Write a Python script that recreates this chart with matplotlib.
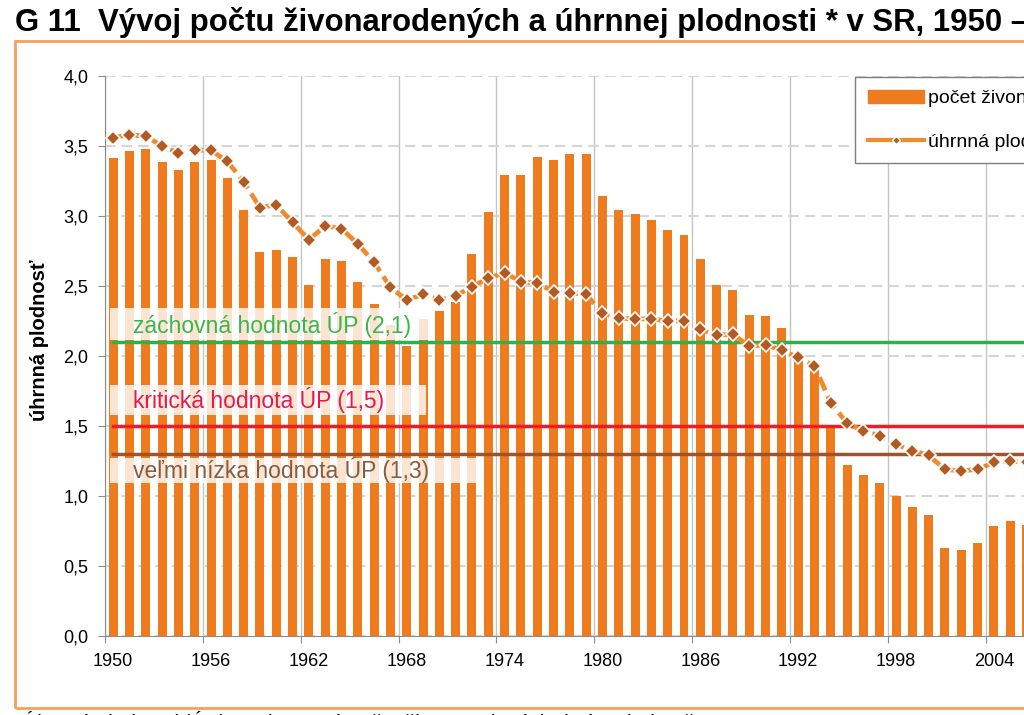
import numpy as np
import matplotlib.pyplot as plt
from matplotlib.patches import Rectangle
from matplotlib.lines import Line2D

plt.rcParams['font.family'] = ['Liberation Sans', 'DejaVu Sans']

# roky 1950-2006 (vidno len po 2006, graf je orezany)
years = list(range(1950, 2007))

# pocet zivonarodenych (tis.), pravá os
births = [99.7, 100.6, 100.9, 99.2, 98.3, 99.3, 99.5, 97.2, 93.2, 88.0,
          88.3, 87.4, 83.9, 87.1, 86.9, 84.3, 81.5, 78.9, 76.2, 79.6,
          80.6, 81.7, 87.8, 93.0, 97.6, 97.6, 99.9, 99.5, 100.2, 100.2,
          95.0, 93.2, 92.7, 92.0, 90.8, 90.1, 87.1, 83.9, 83.2, 80.1,
          80.0, 78.5, 74.6, 73.3, 66.4, 61.4, 60.1, 59.1, 57.5, 56.1,
          55.1, 51.0, 50.8, 51.6, 53.7, 54.4, 53.9]

# uhrnna plodnost, lava os
tfr = [3.56, 3.58, 3.57, 3.50, 3.45, 3.47, 3.47, 3.39, 3.245, 3.06,
       3.08, 2.955, 2.83, 2.93, 2.91, 2.80, 2.67, 2.49, 2.40, 2.44,
       2.40, 2.43, 2.495, 2.555, 2.595, 2.53, 2.52, 2.46, 2.45, 2.44,
       2.305, 2.27, 2.265, 2.265, 2.25, 2.25, 2.19, 2.15, 2.155, 2.07,
       2.08, 2.04, 1.99, 1.93, 1.665, 1.52, 1.465, 1.43, 1.37, 1.325,
       1.29, 1.19, 1.18, 1.19, 1.24, 1.25, 1.24]

# referencne hodnoty UP
ref_values = [2.1, 1.5, 1.3]
ref_labels = ['záchovná hodnota ÚP (2,1)', 'kritická hodnota ÚP (1,5)',
              'veľmi nízka hodnota ÚP (1,3)']
ref_line_colors = ['#2EB04A', '#EE1C25', '#A0522D']
ref_text_colors = ['#3CB54A', '#E8174B', '#8B5A3C']

tick_years = list(range(1950, 2011, 6))
title = 'G 11  Vývoj počtu živonarodených a úhrnnej plodnosti * v SR, 1950 – 2010'
legend_labels = ['počet živonarodených', 'úhrnná plodnosť']

W, H = 1024, 715
px_year = 16.31
x_start, x_end = 1950, 2011

fig = plt.figure(figsize=(W / 100, H / 100), dpi=100)

# oranzovy ramcek a nadpis
fig.patches.append(Rectangle((15 / W, 1 - 708 / H), 1.2, (708 - 41) / H,
                             transform=fig.transFigure, fill=False,
                             edgecolor='#F4A15D', lw=2))
fig.text(15 / W, 1 - 22 / H, title, fontsize=22.4, fontweight='bold',
         va='center', ha='left')
fig.text(40 / W, 1 - 340 / H, 'úhrnná plodnosť', rotation=90, fontsize=14.5,
         fontweight='bold', ha='center', va='center')
fig.text(22 / W, 1 - 711 / H,
         'Úhrnná plodnosť (ÚP) – priemerný počet živonarodených detí na jednu ženu',
         fontsize=15, va='top', ha='left')

ax = fig.add_axes([105 / W, 1 - 636 / H, (x_end - x_start) * px_year / W, 560 / H])
ax.set_xlim(x_start, x_end)
ax.set_ylim(0, 4)
ax.set_yticks(np.arange(0, 4.01, 0.5))
ax.set_yticklabels([f'{v:.1f}'.replace('.', ',') for v in np.arange(0, 4.01, 0.5)])
ax.set_xticks(tick_years)
ax.set_xticklabels([])
ax.set_xticks([y + 0.5 for y in tick_years], minor=True)
ax.set_xticklabels([str(y) for y in tick_years], minor=True)
ax.tick_params(axis='x', which='major', length=5, color='#8C8C8C')
ax.tick_params(axis='x', which='minor', length=0, pad=12, labelsize=13)
ax.tick_params(axis='y', length=5, color='#8C8C8C', pad=7, labelsize=13)
ax.yaxis.grid(True, ls=(0, (5, 3)), color='#D5D5D5', lw=1.5)
ax.xaxis.grid(True, which='major', color='#C4C4C4', lw=1)
ax.set_axisbelow(True)
for s in ['top', 'right']:
    ax.spines[s].set_visible(False)
for s in ['left', 'bottom']:
    ax.spines[s].set_color('#8C8C8C')

# stlpce na pravej osi
ax2 = ax.twinx()
ax2.set_ylim(40, 110)
ax2.bar([y + 0.5 for y in years], births, width=0.55, color='#EE7B1D')
ax2.axis('off')

# ciary a popisky na lavej osi
ax3 = ax.twinx()
ax3.set_ylim(0, 4)
ax3.axis('off')

box_x = [(1950.3, 1969.9), (1950.3, 1969.7), (1950.3, 1973.0)]
box_y = [(2.114, 2.343), (1.579, 1.793), (1.093, 1.271)]
text_y = [2.225, 1.686, 1.186]
for i in range(3):
    ax3.add_patch(Rectangle((box_x[i][0], box_y[i][0]), box_x[i][1] - box_x[i][0],
                            box_y[i][1] - box_y[i][0], facecolor='white',
                            alpha=0.8, edgecolor='none', zorder=2))
    ax3.axhline(ref_values[i], xmin=0.5 / (x_end - x_start), color=ref_line_colors[i],
                lw=2.5, zorder=3)
    ax3.text(1951.7, text_y[i], ref_labels[i], color=ref_text_colors[i],
             fontsize=16.5, va='center', ha='left', zorder=4)

ax3.plot([y + 0.5 for y in years], tfr, color='#F08A2E', lw=3.4,
         ls=(0, (3, 1.3)), marker='D', ms=7, mfc='#B35A22', mec='white',
         mew=1.2, zorder=5)

handles = [Rectangle((0, 0), 1, 1, color='#EE7B1D'),
           Line2D([], [], color='#F08A2E', lw=3, marker='D', ms=4,
                  mfc='#B35A22', mec='white')]
leg = ax3.legend(handles, legend_labels, loc='upper left',
                 bbox_to_anchor=(855 / W, 1 - 77 / H), bbox_transform=fig.transFigure,
                 fontsize=14, fancybox=False, edgecolor='#7F7F7F', framealpha=1,
                 handlelength=2.9, handleheight=0.65, labelspacing=1.35,
                 borderpad=0.65, handletextpad=0.2, borderaxespad=0)
leg.get_frame().set_linewidth(1)
leg.set_zorder(10)

fig.savefig('out.png', dpi=100)
